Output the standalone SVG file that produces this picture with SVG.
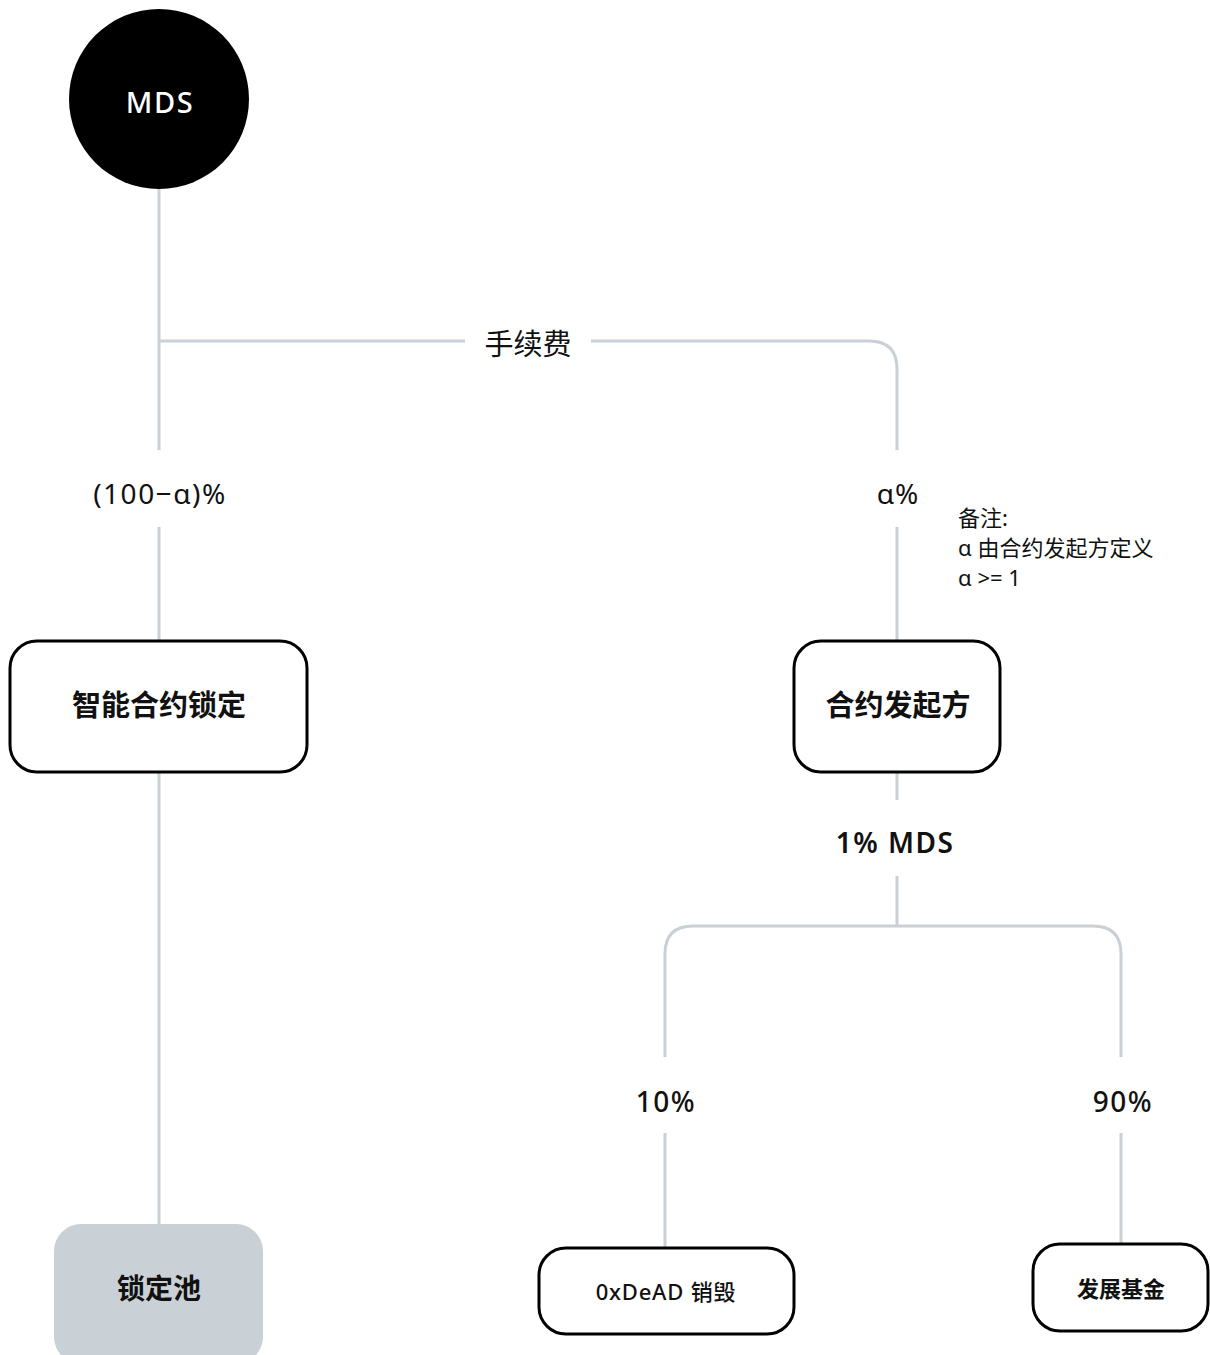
<svg xmlns="http://www.w3.org/2000/svg" width="1210" height="1355" viewBox="0 0 1210 1355">
<style>
.ln{fill:none;stroke:#c9d0d6;stroke-width:3}
.box{fill:#fff;stroke:#000;stroke-width:3}
.t{font-family:"Noto Sans","Noto Sans CJK SC",sans-serif;fill:#111;text-anchor:middle;dominant-baseline:central}
.b{font-weight:600}
</style>
<rect width="1210" height="1355" fill="#fff"/>
<g id="connectors">
<path class="ln" d="M159 189V450M159 527V641M159 772V1224"/>
<path class="ln" d="M159 341H465M591 341H869Q897 341 897 369V450M897 527V641"/>
<path class="ln" d="M897 772V800M897 876V926M897 926H693Q665 926 665 954V1057M665 1133V1248M897 926H1093Q1121 926 1121 954V1057M1121 1133V1244"/>
</g>
<g id="labels">
<text class="t" x="528" y="343" font-size="29">手续费</text>
<text class="t" x="160" y="493" font-size="28" letter-spacing="1.5">(100−α)%</text>
<text class="t" x="898" y="493" font-size="28" letter-spacing="1">α%</text>
<text class="t" x="895" y="842" font-size="28" font-weight="600" letter-spacing="1.5">1% MDS</text>
<text class="t" x="666" y="1101" font-size="28" font-weight="500" letter-spacing="1.5">10%</text>
<text class="t" x="1123" y="1101" font-size="28" font-weight="500" letter-spacing="1.5">90%</text>
</g>
<g id="note">
<text font-family="'Noto Sans','Noto Sans CJK SC',sans-serif" font-size="22" fill="#111">
<tspan x="958" y="526">备注:</tspan>
<tspan x="958" y="556">α 由合约发起方定义</tspan>
<tspan x="958" y="586">α &gt;= 1</tspan>
</text>
</g>
<g id="mds">
<circle cx="159" cy="99" r="90" fill="#000"/>
<text class="t" x="160" y="101" font-size="29" style="fill:#fff" font-weight="500" letter-spacing="1.5">MDS</text>
</g>
<g id="lock">
<rect class="box" x="10" y="641" width="297" height="131" rx="27"/>
<text class="t b" x="159" y="704" font-size="29">智能合约锁定</text>
</g>
<g id="initiator">
<rect class="box" x="794" y="641" width="206" height="131" rx="27"/>
<text class="t b" x="898" y="704" font-size="29">合约发起方</text>
</g>
<g id="pool">
<rect x="54" y="1224" width="209" height="140" rx="27" fill="#c9d1d7"/>
<text class="t b" x="159" y="1288" font-size="28">锁定池</text>
</g>
<g id="burn">
<rect class="box" x="539" y="1248" width="255" height="86" rx="27"/>
<text class="t" x="666" y="1291" font-size="22" font-weight="500" letter-spacing="0.8">0xDeAD 销毁</text>
</g>
<g id="fund">
<rect class="box" x="1033" y="1244" width="175" height="87" rx="27"/>
<text class="t b" x="1121" y="1288" font-size="22">发展基金</text>
</g>
</svg>
